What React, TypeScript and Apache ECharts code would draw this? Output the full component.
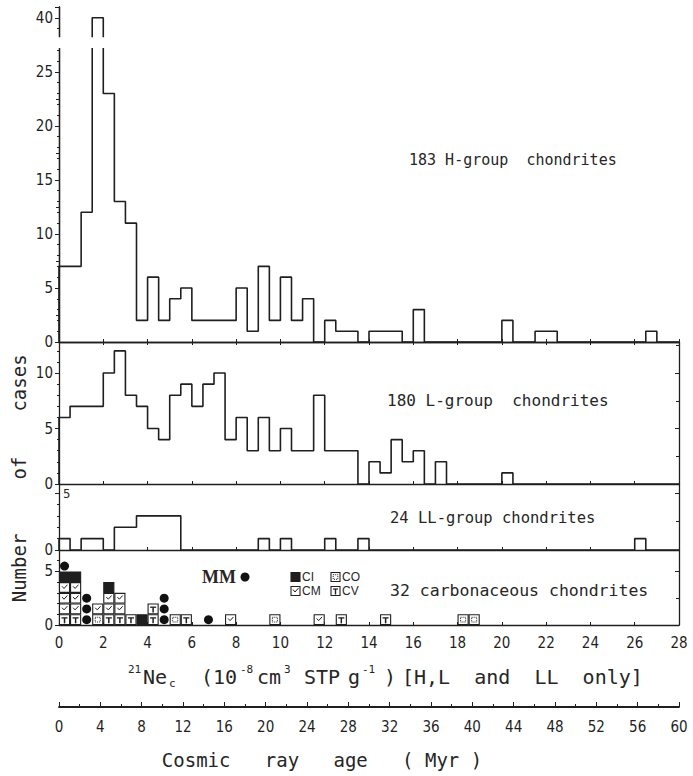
import React, { useEffect, useRef } from 'react';
import * as echarts from 'echarts';

// ---- data (bins of 0.5 x 10^-8 cm3 STP/g, starting at 0) ----
const BIN_WIDTH = 0.5;
const hCounts = [7, 7, 12, 40, 23, 13, 11, 2, 6, 2, 4, 5, 2, 2, 2, 2, 5, 1, 7, 2, 6, 2, 4, 0, 2, 1, 1, 0, 1, 1, 1, 0, 3, 0, 0, 0, 0, 0, 0, 0, 2, 0, 0, 1, 1, 0, 0, 0, 0, 0, 0, 0, 0, 1, 0, 0];
const lCounts = [6, 7, 7, 7, 10, 12, 8, 7, 5, 4, 8, 9, 7, 9, 10, 4, 6, 3, 6, 3, 5, 3, 3, 8, 3, 3, 3, 0, 2, 1, 4, 2, 3, 0, 2, 0, 0, 0, 0, 0, 1, 0, 0, 0, 0, 0, 0, 0, 0, 0, 0, 0, 0, 0, 0, 0];
const llCounts = [1, 0, 1, 1, 0, 2, 2, 3, 3, 3, 3, 0, 0, 0, 0, 0, 0, 0, 1, 0, 1, 0, 0, 0, 1, 0, 0, 1, 0, 0, 0, 0, 0, 0, 0, 0, 0, 0, 0, 0, 0, 0, 0, 0, 0, 0, 0, 0, 0, 0, 0, 0, 1, 0, 0, 0];
// carbonaceous chondrites: [bin start, count], stacked CV, CO, CM, CI from the bottom
const cvBins = [[0, 1], [0.5, 1], [2, 1], [2.5, 1], [3, 1], [4, 2], [5.5, 1], [12.5, 1], [14.5, 1]];
const coBins = [[1.5, 1], [5, 1], [9.5, 1], [18, 1], [18.5, 1]];
const cmBins = [[0, 3], [0.5, 3], [1.5, 1], [2, 2], [2.5, 2], [7.5, 1], [11.5, 1]];
const ciBins = [[0, 1], [0.5, 1], [2, 1], [3.5, 1]];
const dotBins = [[0, 1], [1, 3], [4.5, 3], [6.5, 1]];
const neTicks = { min: 0, max: 28, interval: 2 };
const ageTicks = { min: 0, max: 60, interval: 4 };
const panelTitles = ['183 H-group  chondrites', '180 L-group  chondrites', '24 LL-group chondrites', '32 carbonaceous chondrites'];

const INK = '#1f1f1f';
const TXT = '#262626';
const NUM_FONT = "'Liberation Sans Narrow', 'DejaVu Sans Condensed', 'Roboto Condensed', 'Liberation Sans', sans-serif";
const MONO = "'DejaVu Sans Mono', 'Liberation Mono', monospace";

// broken y axis of the H panel: values above 27 are compressed (40 -> 30)
const BREAK_AT = 27;
const disp = (v: number) => (v <= BREAK_AT ? v : BREAK_AT + ((v - BREAK_AT) * 3) / 13);

const stepData = (counts: number[], f: (v: number) => number = (v) => v) => {
  const pts: number[][] = [[0, 0]];
  counts.forEach((c, i) => pts.push([i * BIN_WIDTH, f(c)]));
  pts.push([counts.length * BIN_WIDTH, 0]);
  return pts;
};

// build carbonaceous cells
const stack: Record<string, number> = {};
const cells: number[][] = [];
[cvBins, coBins, cmBins, ciBins].forEach((arr, t) => {
  arr.forEach(([b, n]) => {
    const base = stack[b] || 0;
    for (let k = 0; k < n; k++) cells.push([b, b + BIN_WIDTH, base + k, t]);
    stack[b] = base + n;
  });
});
const dots: number[][] = [];
dotBins.forEach(([b, n]) => {
  const base = stack[b] || 0;
  for (let k = 0; k < n; k++) dots.push([b + BIN_WIDTH / 2, base + k + 0.5]);
});

const GL = 59;
const GR = 14;
const grids = [
  { top: 7, height: 335, ymax: 31 },
  { top: 342, height: 142, ymax: 12.8 },
  { top: 484, height: 66, ymax: 5.8 },
  { top: 550, height: 75, ymax: 7 },
];

const cellRender = (params: any, api: any) => {
  const x0 = api.value(0), x1 = api.value(1), lv = api.value(2), t = api.value(3);
  const p0 = api.coord([x0, lv]);
  const p1 = api.coord([x1, lv + 1]);
  const x = p0[0] + 0.5, y = p1[1] + 0.5;
  const w = p1[0] - p0[0] - 1, h = p0[1] - p1[1] - 1;
  const children: any[] = [
    { type: 'rect', shape: { x, y, width: w, height: h }, style: { fill: t === 3 ? INK : '#fff', stroke: INK, lineWidth: 1.1 } },
  ];
  if (t === 1) {
    children.push({ type: 'rect', shape: { x: x + 2.5, y: y + 2.5, width: w - 5, height: h - 5 }, style: { fill: 'none', stroke: INK, lineWidth: 1, lineDash: [1, 1] } });
  } else if (t === 2) {
    children.push({ type: 'polyline', shape: { points: [[x + w * 0.25, y + h * 0.38], [x + w * 0.45, y + h * 0.6], [x + w * 0.78, y + h * 0.22]] }, style: { fill: 'none', stroke: INK, lineWidth: 1 } });
  } else if (t === 0) {
    children.push({ type: 'line', shape: { x1: x + w * 0.2, y1: y + h * 0.32, x2: x + w * 0.8, y2: y + h * 0.32 }, style: { stroke: INK, lineWidth: 1.3 } });
    children.push({ type: 'line', shape: { x1: x + w * 0.5, y1: y + h * 0.32, x2: x + w * 0.5, y2: y + h * 0.88 }, style: { stroke: INK, lineWidth: 1.5 } });
  }
  return { type: 'group', children };
};

const buildOption = () => {
  const xAxis: any[] = grids.map((g, i) => ({
    type: 'value', gridIndex: i, ...neTicks,
    axisLine: { show: true, lineStyle: { color: INK, width: 1.3 } },
    axisTick: { show: true, inside: true, length: 3, lineStyle: { color: INK } },
    axisLabel: { show: i === 3, color: INK, fontFamily: NUM_FONT, fontSize: 15, margin: 10 },
    splitLine: { show: false },
  }));
  xAxis.push({
    type: 'value', gridIndex: 0, position: 'top', ...neTicks,
    axisLine: { show: true, lineStyle: { color: INK, width: 1.3 } },
    axisTick: { show: true, inside: true, length: 3, lineStyle: { color: INK } },
    axisLabel: { show: false }, splitLine: { show: false },
  });
  xAxis.push({
    type: 'value', gridIndex: 4, position: 'bottom', ...ageTicks,
    axisLine: { show: true, lineStyle: { color: INK, width: 1.8 } },
    axisTick: { show: true, inside: true, length: 5, lineStyle: { color: INK } },
    minorTick: { show: true, splitNumber: 2, length: 3, lineStyle: { color: INK } },
    axisLabel: { color: INK, fontFamily: NUM_FONT, fontSize: 15, margin: 12 },
    splitLine: { show: false },
  });
  const yAxis: any[] = grids.map((g, i) => ({
    type: 'value', gridIndex: i, min: 0, max: g.ymax, interval: 5,
    axisLine: { show: true, lineStyle: { color: INK, width: 1.3 } },
    axisTick: { show: true, length: 4, lineStyle: { color: INK } },
    minorTick: { show: true, splitNumber: 5, length: 2, lineStyle: { color: INK } },
    axisLabel: {
      color: INK, fontFamily: NUM_FONT, fontSize: 15, margin: 6, showMaxLabel: false,
      // the LL panel's "5" is printed inside the frame (see graphics)
      formatter: (v: number) => (i === 0 && v === 30 ? '40' : i === 2 && v === 5 ? '' : v % 5 === 0 && v <= 25 ? String(v) : ''),
    },
    splitLine: { show: false },
  }));
  grids.forEach((g, i) => yAxis.push({
    type: 'value', gridIndex: i, position: 'right', min: 0, max: g.ymax, interval: 5,
    axisLine: { show: true, lineStyle: { color: INK, width: 1.3 } },
    axisTick: { show: true, inside: true, length: 4, lineStyle: { color: INK } },
    minorTick: { show: true, splitNumber: 2, length: 3, lineStyle: { color: INK } },
    axisLabel: { show: false }, splitLine: { show: false },
  }));
  yAxis.push({ type: 'value', gridIndex: 4, show: false, min: 0, max: 1 });

  const lineSeries = (data: number[][], idx: number) => ({
    type: 'line', xAxisIndex: idx, yAxisIndex: idx, data, step: 'end', symbol: 'none',
    lineStyle: { color: INK, width: 1.6 }, silent: true, z: 3,
  });

  return {
    animation: false,
    backgroundColor: '#fff',
    grid: [
      ...grids.map((g) => ({ left: GL, right: GR, top: g.top, height: g.height, show: false })),
      { left: GL, right: GR, top: 706, height: 1, show: false },
    ],
    xAxis,
    yAxis,
    series: [
      lineSeries(stepData(hCounts, disp), 0),
      lineSeries(stepData(lCounts), 1),
      lineSeries(stepData(llCounts), 2),
      {
        type: 'custom', xAxisIndex: 3, yAxisIndex: 3, data: cells,
        encode: { x: [0, 1], y: 2 }, renderItem: cellRender, silent: true, z: 3,
      },
      {
        type: 'scatter', xAxisIndex: 3, yAxisIndex: 3, data: dots, symbol: 'circle', symbolSize: 9,
        itemStyle: { color: '#111', opacity: 1 }, silent: true, z: 4,
      },
    ],
  };
};

const txt = (x: number, y: number, text: string, font: string, size: number, extra: any = {}) => ({
  type: 'text', x, y, z: 50,
  style: { text, fill: TXT, fontFamily: font, fontSize: size, align: 'left', verticalAlign: 'middle', textAlign: 'left', textVerticalAlign: 'middle', ...extra },
});

const legendGraphics = (): any[] => {
  const g: any[] = [];
  // panel titles
  g.push(txt(409, 160, panelTitles[0], MONO, 15));
  g.push(txt(387, 400, panelTitles[1], MONO, 16));
  g.push(txt(390, 518, panelTitles[2], MONO, 15.5));
  g.push(txt(390, 590, panelTitles[3], MONO, 16.5));
  // LL panel tick label inside the frame
  g.push(txt(63, 493, '5', NUM_FONT, 13));
  // MM legend
  g.push(txt(236, 577, 'MM', "'Liberation Serif', 'DejaVu Serif', serif", 18, { align: 'right', textAlign: 'right', fontWeight: 'bold' }));
  g.push({ type: 'circle', z: 50, shape: { cx: 245, cy: 577, r: 4.5 }, style: { fill: '#111' } });
  // carbonaceous type legend
  const box = (x: number, y: number, kind: string) => {
    const s = 9;
    g.push({ type: 'rect', z: 50, shape: { x, y: y - s / 2, width: s, height: s }, style: { fill: kind === 'CI' ? INK : '#fff', stroke: INK, lineWidth: 1.1 } });
    if (kind === 'CO') g.push({ type: 'rect', z: 51, shape: { x: x + 2.2, y: y - s / 2 + 2.2, width: s - 4.4, height: s - 4.4 }, style: { fill: 'none', stroke: INK, lineWidth: 1, lineDash: [1, 1] } });
    if (kind === 'CM') g.push({ type: 'polyline', z: 51, shape: { points: [[x + 2, y - 1.5], [x + 4, y + 1], [x + 7.5, y - 3]] }, style: { fill: 'none', stroke: INK, lineWidth: 1 } });
    if (kind === 'CV') {
      g.push({ type: 'line', z: 51, shape: { x1: x + 2, y1: y - 2, x2: x + 7, y2: y - 2 }, style: { stroke: INK, lineWidth: 1.2 } });
      g.push({ type: 'line', z: 51, shape: { x1: x + 4.5, y1: y - 2, x2: x + 4.5, y2: y + 3.5 }, style: { stroke: INK, lineWidth: 1.4 } });
    }
    g.push(txt(x + 11, y, kind, "'Liberation Sans', sans-serif", 12));
  };
  box(291, 577, 'CI');
  box(331, 577, 'CO');
  box(291, 591, 'CM');
  box(331, 591, 'CV');
  // y axis title
  const rot = (x: number, y: number, text: string) => ({
    type: 'text', x, y, rotation: Math.PI / 2, z: 50,
    style: { text, fill: TXT, fontFamily: MONO, fontSize: 19, align: 'center', verticalAlign: 'middle', textAlign: 'center', textVerticalAlign: 'middle' },
  });
  g.push(rot(19, 568, 'Number'));
  g.push(rot(19, 468, 'of'));
  g.push(rot(19, 383, 'cases'));
  // 21Ne axis title, written in pieces for the super/subscripts
  const MAIN = 20, SMALL = 11, BASE = 677;
  g.push(txt(128, BASE - 8, '21', MONO, SMALL));
  g.push(txt(143, BASE, 'Ne', MONO, MAIN));
  g.push(txt(169, BASE + 6, 'c', MONO, SMALL));
  g.push(txt(201, BASE, '(10', MONO, MAIN));
  g.push(txt(240, BASE - 8, '-8', MONO, SMALL));
  g.push(txt(257, BASE, 'cm', MONO, MAIN));
  g.push(txt(284, BASE - 8, '3', MONO, SMALL));
  g.push(txt(304, BASE, 'STP', MONO, MAIN));
  g.push(txt(348, BASE, 'g', MONO, MAIN));
  g.push(txt(362, BASE - 8, '-1', MONO, SMALL));
  g.push(txt(384, BASE, ')', MONO, MAIN));
  g.push(txt(402, BASE, '[H,L  and  LL  only]', MONO, MAIN));
  // cosmic ray age title
  g.push(txt(322, 760, 'Cosmic   ray   age   ( Myr )', MONO, 19, { align: 'center', textAlign: 'center' }));
  return g;
};

export default function App() {
  const ref = useRef<HTMLDivElement>(null);
  useEffect(() => {
    if (!ref.current) return;
    const chart = echarts.init(ref.current, null, { renderer: 'svg' });
    chart.setOption(buildOption());
    // axis break marks in the H panel
    const lo = chart.convertToPixel({ gridIndex: 0 } as any, [1.5, 27.2]) as number[];
    const hi = chart.convertToPixel({ gridIndex: 0 } as any, [2.0, 28.2]) as number[];
    const right = chart.convertToPixel({ gridIndex: 0 } as any, [28, 28.6]) as number[];
    const left = chart.convertToPixel({ gridIndex: 0 } as any, [0, 0]) as number[];
    const gaps: any[] = [
      { type: 'rect', z: 100, shape: { x: left[0] - 5, y: hi[1], width: 10, height: lo[1] - hi[1] }, style: { fill: '#fff' } },
      { type: 'rect', z: 100, shape: { x: lo[0] - 3, y: hi[1], width: hi[0] - lo[0] + 6, height: lo[1] - hi[1] }, style: { fill: '#fff' } },
      { type: 'rect', z: 100, shape: { x: right[0] - 5, y: right[1] - 5, width: 10, height: 6 }, style: { fill: '#fff' } },
    ];
    chart.setOption({ graphic: [...gaps, ...legendGraphics()] });
    return () => chart.dispose();
  }, []);
  return <div ref={ref} style={{ position: 'absolute', left: 0, top: 0, width: 693, height: 776, background: '#fff' }} />;
}
